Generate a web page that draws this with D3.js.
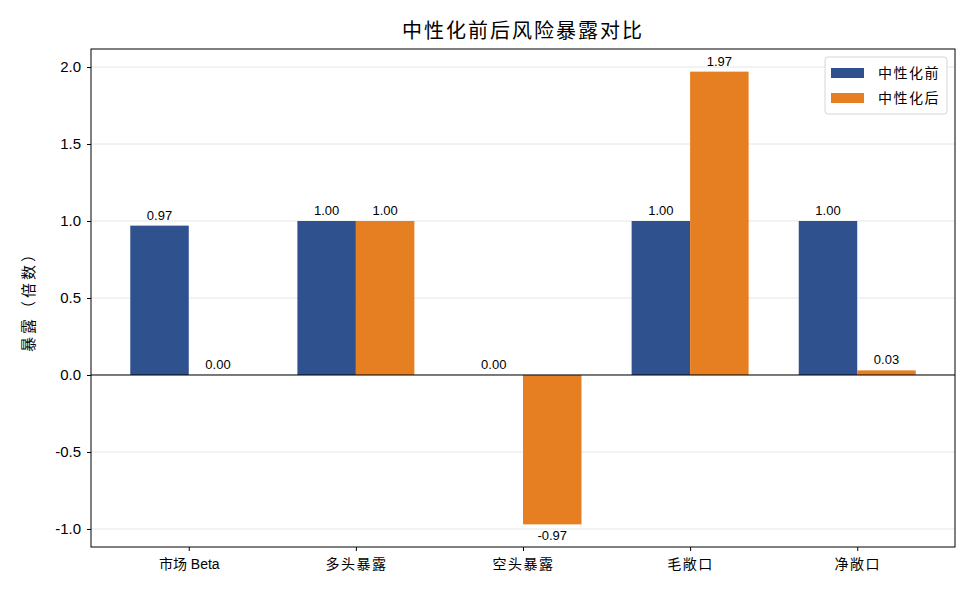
<!DOCTYPE html>
<html>
<head>
<meta charset="utf-8" />
<title>中性化前后风险暴露对比</title>
<script src="https://d3js.org/d3.v7.min.js"></script>
<style>
    body { margin: 0; background: #fff; }
    text { font-family: "Liberation Sans", Arial, "Noto Sans CJK SC", sans-serif; fill: #000; }
    .cjk { font-family: "Liberation Sans", "Noto Sans CJK SC", sans-serif; }
</style>
</head>
<body>
<div id="chart"></div>
<script>
// data
const categories = ["市场 Beta", "多头暴露", "空头暴露", "毛敞口", "净敞口"];
const before = [0.97, 1.00, 0.00, 1.00, 1.00];
const after = [0.00, 1.00, -0.97, 1.97, 0.03];
const seriesNames = ["中性化前", "中性化后"];
const yTicks = [-1.0, -0.5, 0.0, 0.5, 1.0, 1.5, 2.0];

const colors = ["#2f518e", "#e67f22"];
const width = 975, height = 598;
const margin = { left: 91, right: 20, top: 49, bottom: 51 };
const barW = 0.35;

const svg = d3.select("#chart").append("svg")
    .attr("width", width)
    .attr("height", height);

const x = d3.scaleLinear()
    .domain([-0.585, 4.585])
    .range([margin.left, width - margin.right]);

const y = d3.scaleLinear()
    .domain([-1.117, 2.117])
    .range([height - margin.bottom, margin.top]);

// grid
svg.append("g")
    .selectAll("line")
    .data(yTicks)
    .enter().append("line")
    .attr("x1", margin.left)
    .attr("x2", width - margin.right)
    .attr("y1", d => y(d))
    .attr("y2", d => y(d))
    .attr("stroke", "#e6e6e6")
    .attr("stroke-width", 1);

// bars
const series = [before, after];
series.forEach((vals, s) => {
    svg.append("g")
        .selectAll("rect")
        .data(vals)
        .enter().append("rect")
        .attr("x", (d, i) => x(i - barW + s * barW))
        .attr("width", x(barW) - x(0))
        .attr("y", d => y(Math.max(0, d)))
        .attr("height", d => Math.abs(y(d) - y(0)))
        .attr("fill", colors[s]);

    svg.append("g")
        .selectAll("text")
        .data(vals)
        .enter().append("text")
        .attr("x", (d, i) => x(i - barW / 2 + s * barW))
        .attr("y", d => d < 0 ? y(d) + 16 : y(d) - 6)
        .attr("text-anchor", "middle")
        .attr("font-size", 13)
        .text(d => d.toFixed(2));
});

// zero line
svg.append("line")
    .attr("x1", margin.left)
    .attr("x2", width - margin.right)
    .attr("y1", y(0))
    .attr("y2", y(0))
    .attr("stroke", "#000")
    .attr("stroke-width", 1);

// axes
const yAxis = svg.append("g")
    .attr("transform", `translate(${margin.left},0)`)
    .call(d3.axisLeft(y).tickValues(yTicks).tickFormat(d => d.toFixed(1)).tickSize(4).tickPadding(6));
yAxis.select(".domain").remove();
yAxis.selectAll("text").attr("font-size", 15).style("font-family", "'Liberation Sans', Arial, sans-serif");

const xAxis = svg.append("g")
    .attr("transform", `translate(0,${height - margin.bottom})`)
    .call(d3.axisBottom(x).tickValues(d3.range(categories.length)).tickFormat(i => categories[i]).tickSize(4).tickPadding(8));
xAxis.select(".domain").remove();
xAxis.selectAll("text").attr("font-size", 14).attr("class", "cjk")
    .style("letter-spacing", (i) => categories[i].includes("Beta") ? "0px" : "1.5px");

// frame
svg.append("rect")
    .attr("x", margin.left)
    .attr("y", margin.top)
    .attr("width", width - margin.left - margin.right)
    .attr("height", height - margin.top - margin.bottom)
    .attr("fill", "none")
    .attr("stroke", "#000")
    .attr("stroke-width", 1);

// title
svg.append("text")
    .attr("x", (margin.left + width - margin.right) / 2)
    .attr("y", 38)
    .attr("text-anchor", "middle")
    .attr("font-size", 20)
    .attr("class", "cjk")
    .style("letter-spacing", "2px")
    .text("中性化前后风险暴露对比");

// y label
svg.append("text")
    .attr("transform", `translate(34,${(margin.top + height - margin.bottom) / 2}) rotate(-90)`)
    .attr("text-anchor", "middle")
    .attr("font-size", 15)
    .attr("class", "cjk")
    .style("letter-spacing", "3px")
    .text("暴露（倍数）");

// legend
const legend = svg.append("g").attr("transform", "translate(825,57)");
legend.append("rect")
    .attr("width", 122)
    .attr("height", 57)
    .attr("rx", 3)
    .attr("fill", "#fff")
    .attr("stroke", "#d6d6d6");
seriesNames.forEach((name, s) => {
    legend.append("rect")
        .attr("x", 6)
        .attr("y", 11 + s * 25)
        .attr("width", 33)
        .attr("height", 10)
        .attr("fill", colors[s]);
    legend.append("text")
        .attr("x", 53)
        .attr("y", 21 + s * 25)
        .attr("font-size", 14)
        .attr("class", "cjk")
        .style("letter-spacing", "1.5px")
        .text(name);
});
</script>
</body>
</html>
